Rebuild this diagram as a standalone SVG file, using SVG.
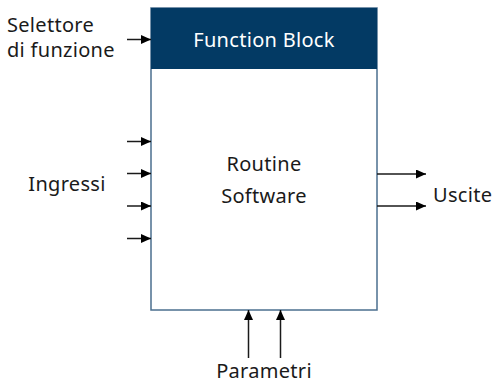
<svg xmlns="http://www.w3.org/2000/svg" width="493" height="383" viewBox="0 0 493 383">
  <style>
    .lbl { font-family: "Noto Sans", "Open Sans", "Liberation Sans", sans-serif; font-size: 20px; letter-spacing: 0.3px; fill: #1a1a1a; }
    .hdr { font-family: "Noto Sans", "Open Sans", "Liberation Sans", sans-serif; font-size: 20px; letter-spacing: 0.3px; fill: #ffffff; }
    .wire { stroke: #1a1a1a; stroke-width: 1.5; fill: none; marker-end: url(#arrow); }
  </style>
  <defs>
    <marker id="arrow" viewBox="0 0 10 10" refX="10" refY="5" markerWidth="10" markerHeight="9" markerUnits="userSpaceOnUse" orient="auto" preserveAspectRatio="none">
      <path d="M0,0 L10,5 L0,10 z" fill="#000000"/>
    </marker>
  </defs>

  <rect width="493" height="383" fill="#ffffff"/>

  <g id="function-block">
    <rect x="151" y="8" width="226" height="302" fill="#ffffff" stroke="#4b6f8f" stroke-width="1.5"/>
    <rect x="151" y="8" width="226" height="61" fill="#033a64"/>
    <text class="hdr" x="264" y="47" text-anchor="middle">Function Block</text>
    <text class="lbl" x="264" y="171" text-anchor="middle">Routine</text>
    <text class="lbl" x="264" y="203" text-anchor="middle">Software</text>
  </g>

  <g id="selector">
    <text class="lbl" x="7" y="32">Selettore</text>
    <text class="lbl" x="7" y="57">di funzione</text>
  </g>

  <g id="inputs">
    <text class="lbl" x="67" y="191" text-anchor="middle">Ingressi</text>
  </g>

  <g id="outputs">
    <text class="lbl" x="433" y="202">Uscite</text>
  </g>

  <g id="parameters">
    <text class="lbl" x="264" y="378" text-anchor="middle">Parametri</text>
  </g>

  <g id="connectors">
    <line class="wire" x1="127" y1="39.5" x2="151" y2="39.5"/>
    <line class="wire" x1="127" y1="141.5" x2="151" y2="141.5"/>
    <line class="wire" x1="127" y1="173.5" x2="151" y2="173.5"/>
    <line class="wire" x1="127" y1="206" x2="151" y2="206"/>
    <line class="wire" x1="127" y1="238.5" x2="151" y2="238.5"/>
    <line class="wire" x1="377" y1="174" x2="426" y2="174"/>
    <line class="wire" x1="377" y1="206" x2="426" y2="206"/>
    <line class="wire" x1="248.5" y1="358" x2="248.5" y2="310"/>
    <line class="wire" x1="280.5" y1="358" x2="280.5" y2="310"/>
  </g>
</svg>
